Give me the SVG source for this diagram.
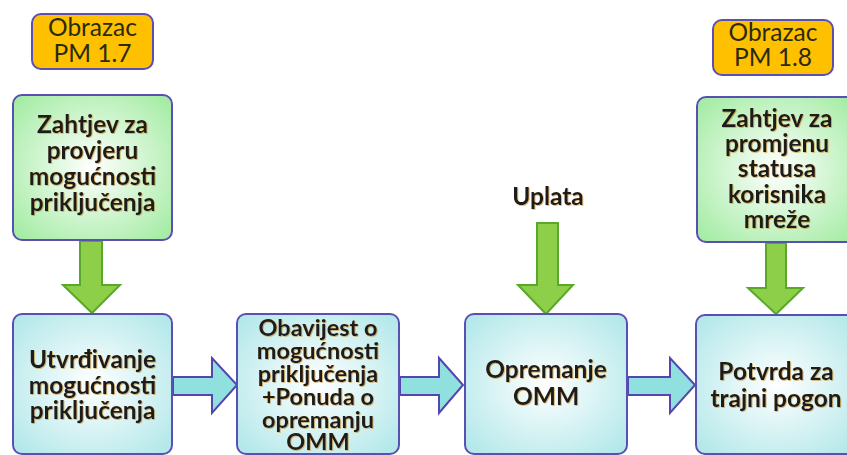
<svg xmlns="http://www.w3.org/2000/svg" width="847" height="455" viewBox="0 0 847 455">
<defs>
<radialGradient id="gGreen" cx="50%" cy="50%" r="65%">
<stop offset="0" stop-color="#ffffff"/>
<stop offset="1" stop-color="#a6eca6"/>
</radialGradient>
<radialGradient id="gBlue" cx="50%" cy="50%" r="65%">
<stop offset="0" stop-color="#ffffff"/>
<stop offset="1" stop-color="#b4e8ea"/>
</radialGradient>
<filter id="glow" x="-10%" y="-10%" width="120%" height="130%">
<feDropShadow dx="0.8" dy="0.8" stdDeviation="0.6" flood-color="#c07a00" flood-opacity="0.6"/>
</filter>
</defs>
<style>
.gbox{fill:url(#gGreen);stroke:#5a4fb3;stroke-width:2}
.bbox{fill:url(#gBlue);stroke:#5a4fb3;stroke-width:2}
.obox{fill:#ffc000;stroke:#5a4fb3;stroke-width:2}
.garr{fill:#8dcf48;stroke:#5aa82a;stroke-width:2;stroke-linejoin:miter}
.barr{fill:#8fe0de;stroke:#5346b0;stroke-width:2;stroke-linejoin:miter}
.t{font-family:Lato,"Liberation Sans",sans-serif;font-weight:bold;font-size:24.5px;fill:#1a1a1a;text-anchor:middle;filter:url(#glow)}
.s{font-size:23.5px}
.o{font-family:Lato,"Liberation Sans",sans-serif;font-size:24.5px;fill:#2a2a10;text-anchor:middle}
</style>

<g id="connectors">
<polygon class="garr" points="80,241 102,241 102,285 120,285 92,313 63,285 80,285"/>
<polygon class="garr" points="537,223 558,223 558,285 573,285 546,314 518,285 537,285"/>
<polygon class="garr" points="766,243 786,243 786,288 803,288 776,314 748,288 766,288"/>
<polygon class="barr" points="173,377 212,377 212,358 237,385 212,413 212,395 173,395"/>
<polygon class="barr" points="400,377 439,377 439,358 463,385 439,413 439,395 400,395"/>
<polygon class="barr" points="628,377 670,377 670,358 695,385 670,413 670,395 628,395"/>
</g>

<g id="obrazac17">
<rect class="obox" x="32" y="14" width="121" height="55" rx="9"/>
<text class="o" x="92.5" y="36">Obrazac</text>
<text class="o" x="92.5" y="62">PM 1.7</text>
</g>

<g id="obrazac18">
<rect class="obox" x="713" y="20" width="120" height="55" rx="9"/>
<text class="o" x="773" y="41">Obrazac</text>
<text class="o" x="773" y="66">PM 1.8</text>
</g>

<g id="zahtjev-provjera">
<rect class="gbox" x="13" y="95" width="159" height="145" rx="9"/>
<text class="t" x="92.5" y="133">Zahtjev za</text>
<text class="t" x="92.5" y="159">provjeru</text>
<text class="t" x="92.5" y="185">mogućnosti</text>
<text class="t" x="92.5" y="211">priključenja</text>
</g>

<g id="zahtjev-status">
<rect class="gbox" x="697" y="97" width="160" height="145" rx="9"/>
<text class="t" x="777" y="127">Zahtjev za</text>
<text class="t" x="777" y="152">promjenu</text>
<text class="t" x="777" y="177">statusa</text>
<text class="t" x="777" y="203">korisnika</text>
<text class="t" x="777" y="228">mreže</text>
</g>

<g id="uplata">
<text class="t" x="548" y="205">Uplata</text>
</g>

<g id="utvrdivanje">
<rect class="bbox" x="13" y="314" width="159" height="140" rx="9"/>
<text class="t" x="92.5" y="368">Utvrđivanje</text>
<text class="t" x="92.5" y="394">mogućnosti</text>
<text class="t" x="92.5" y="419">priključenja</text>
</g>

<g id="obavijest">
<rect class="bbox" x="237" y="314" width="162" height="140" rx="9"/>
<text class="t s" x="318" y="336">Obavijest o</text>
<text class="t s" x="318" y="359">mogućnosti</text>
<text class="t s" x="318" y="382">priključenja</text>
<text class="t s" x="318" y="405">+Ponuda o</text>
<text class="t s" x="318" y="428">opremanju</text>
<text class="t s" x="318" y="450">OMM</text>
</g>

<g id="opremanje">
<rect class="bbox" x="465" y="314" width="162" height="140" rx="9"/>
<text class="t" x="546" y="378">Opremanje</text>
<text class="t" x="546" y="405">OMM</text>
</g>

<g id="potvrda">
<rect class="bbox" x="696" y="315" width="162" height="139" rx="9"/>
<text class="t" x="776" y="380">Potvrda za</text>
<text class="t" x="776" y="407">trajni pogon</text>
</g>
</svg>
